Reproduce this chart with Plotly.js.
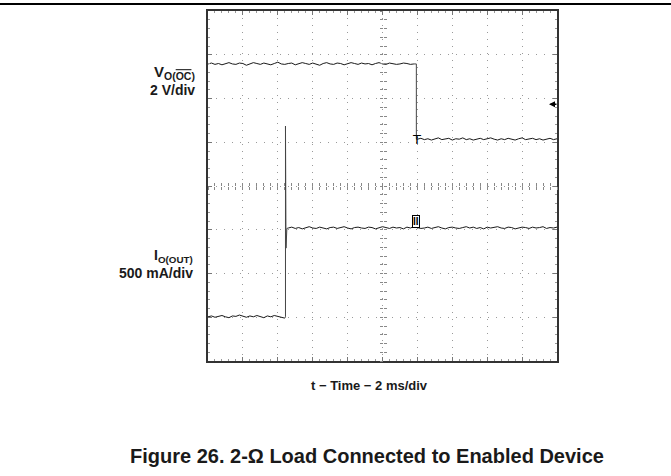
<!DOCTYPE html>
<html>
<head>
<meta charset="utf-8">
<script src="https://cdn.plot.ly/plotly-3.0.1.min.js"></script>
<style>
  body { margin: 0; background: #fff; }
  #plotArea { width: 671px; height: 476px; }
</style>
</head>
<body>
<div id="plotArea"></div>
<script>
// scope screen: 10 x 8 divisions, x in ms (2 ms/div), y in divisions
var sampleStep = 0.2;

// V_O(OC) trace (divisions)
var vHighStart = 0;
var vHigh = [2.79,2.81,2.78,2.80,2.77,2.80,2.82,2.79,2.78,2.81,
  2.80,2.76,2.79,2.82,2.80,2.78,2.81,2.79,2.77,2.80,
  2.83,2.79,2.78,2.80,2.81,2.77,2.79,2.82,2.80,2.78,
  2.81,2.79,2.76,2.80,2.82,2.79,2.78,2.81,2.80,2.77,
  2.79,2.82,2.80,2.78,2.81,2.79,2.80,2.77,2.80,2.82,
  2.79,2.78,2.81,2.80,2.78,2.79,2.81,2.80,2.78,2.79];
var vEdgeT = [11.8, 11.94, 11.94, 12.0];
var vEdgeV = [2.79, 2.79, 1.07, 1.07];
var vLowStart = 12.0;
var vLow = [1.07,1.09,1.06,1.08,1.05,1.08,1.10,1.06,1.07,1.09,
  1.05,1.08,1.07,1.10,1.06,1.08,1.05,1.07,1.09,1.06,
  1.08,1.10,1.07,1.05,1.08,1.06,1.09,1.07,1.05,1.08,
  1.10,1.06,1.07,1.09,1.06,1.08,1.05,1.07,1.09,1.06,1.08];

// I_O(OUT) trace (divisions)
var iLowStart = 0;
var iLow = [-2.99,-2.97,-3.00,-2.98,-2.96,-2.99,-3.01,-2.97,-2.98,-2.95,
  -2.98,-3.00,-2.97,-2.99,-2.96,-2.98,-3.01,-2.97,-2.99,-2.96,
  -2.98,-3.00,-3.02];
var iEdgeT = [4.4, 4.44, 4.44, 4.47, 4.52, 4.6];
var iEdgeI = [-3.02, -2.99, 1.37, -1.42, -0.97, -0.96];
var iHighStart = 4.6;
var iHigh = [-0.96,-0.94,-0.97,-0.95,-0.98,-0.95,-0.93,-0.96,-0.97,-0.94,
  -0.96,-0.98,-0.95,-0.94,-0.97,-0.95,-0.93,-0.96,-0.98,-0.95,
  -0.94,-0.96,-0.97,-0.94,-0.95,-0.98,-0.96,-0.93,-0.95,-0.97,
  -0.94,-0.96,-0.95,-0.98,-0.94,-0.96,-0.93,-0.95,-0.97,-0.96,
  -0.94,-0.97,-0.95,-0.93,-0.96,-0.98,-0.95,-0.94,-0.96,-0.97,
  -0.95,-0.93,-0.96,-0.94,-0.97,-0.95,-0.98,-0.94,-0.96,-0.95,
  -0.93,-0.96,-0.97,-0.94,-0.95,-0.98,-0.96,-0.94,-0.95,-0.97,
  -0.94,-0.96,-0.95,-0.93,-0.97,-0.95,-0.96,-0.94];

// markers on the screen
var cursorT = 11.94;
var cursorLevel = 1.27;
var triggerLevel = -0.8;
var refLevel = 1.87;

var font = "Liberation Sans, Arial, sans-serif";
var ink = "#1a1a1a";

// pixel helpers for the paper-placed text
var L = 208, R = 114, T = 11, B = 115, W = 671, H = 476;
function px(x) { return (x - L) / (W - L - R); }
function py(y) { return (H - B - y) / (H - T - B); }

function seg(y, x0) {
  return {y: y, x0: x0, dx: sampleStep, type: "scatter", mode: "lines",
    line: {color: ink, width: 1}, hoverinfo: "skip", showlegend: false};
}
function edge(x, y) {
  return {x: x, y: y, type: "scatter", mode: "lines",
    line: {color: "#444", width: 1}, hoverinfo: "skip", showlegend: false};
}

var data = [
  seg(vHigh, vHighStart), edge(vEdgeT, vEdgeV), seg(vLow, vLowStart),
  seg(iLow, iLowStart), edge(iEdgeT, iEdgeI), seg(iHigh, iHighStart),
  {x: [], y: [], xaxis: "x2", yaxis: "y", showlegend: false},
  {x: [], y: [], xaxis: "x3", yaxis: "y", showlegend: false},
  {x: [], y: [], xaxis: "x", yaxis: "y2", showlegend: false},
  {x: [], y: [], xaxis: "x", yaxis: "y3", showlegend: false}
];

var gridCol = "#9a9a9a";
var centerX = {overlaying: "x", anchor: "free", position: 0.5, range: [0, 20],
  showgrid: false, zeroline: false, showline: false, showticklabels: false,
  dtick: 0.4, tick0: 0, ticklen: 3, tickcolor: "#888", tickwidth: 1};
var centerY = {overlaying: "y", anchor: "free", position: 0.5, range: [-4, 4],
  showgrid: false, zeroline: false, showline: false, showticklabels: false,
  dtick: 0.2, tick0: 0, ticklen: 3, tickcolor: "#888", tickwidth: 1};

var layout = {
  width: W, height: H,
  margin: {l: L, r: R, t: T, b: B, pad: 0},
  paper_bgcolor: "#fff", plot_bgcolor: "#fff",
  font: {family: font, color: ink},
  showlegend: false,
  xaxis: {
    range: [0, 20], dtick: 2, tick0: 0,
    showgrid: true, gridcolor: gridCol, griddash: "1px,6px", gridwidth: 1,
    zeroline: false, showline: true, mirror: "ticks", linecolor: "#333", linewidth: 2,
    ticks: "inside", ticklen: 4, tickcolor: "#777", showticklabels: false,
    minor: {dtick: 0.4, ticks: "inside", ticklen: 2, tickcolor: "#999", showgrid: false}
  },
  yaxis: {
    range: [-4, 4], dtick: 1, tick0: 0,
    showgrid: true, gridcolor: gridCol, griddash: "1px,7px", gridwidth: 1,
    zeroline: false, showline: true, mirror: "ticks", linecolor: "#333", linewidth: 2,
    ticks: "inside", ticklen: 4, tickcolor: "#777", showticklabels: false,
    minor: {dtick: 0.2, ticks: "inside", ticklen: 2, tickcolor: "#999", showgrid: false}
  },
  xaxis2: Object.assign({}, centerX, {ticks: "inside"}),
  xaxis3: Object.assign({}, centerX, {ticks: "outside"}),
  yaxis2: Object.assign({}, centerY, {ticks: "inside"}),
  yaxis3: Object.assign({}, centerY, {ticks: "outside"}),
  shapes: [
    {type: "line", xref: "paper", yref: "paper", x0: px(0), x1: px(W), y0: py(4), y1: py(4),
      line: {color: "#000", width: 2}}
  ],
  annotations: [
    {xref: "paper", yref: "paper", x: px(197), y: py(72), xanchor: "right", yanchor: "middle",
      showarrow: false, align: "right", font: {size: 15, family: font},
      text: "<b>V<sub>O(<span style='text-decoration:overline'>OC</span>)</sub></b>"},
    {xref: "paper", yref: "paper", x: px(197), y: py(90), xanchor: "right", yanchor: "middle",
      showarrow: false, font: {size: 14, family: font}, text: "<b>2 V/div</b>"},
    {xref: "paper", yref: "paper", x: px(195), y: py(256), xanchor: "right", yanchor: "middle",
      showarrow: false, font: {size: 14, family: font}, text: "<b>I<sub>O(OUT)</sub></b>"},
    {xref: "paper", yref: "paper", x: px(195), y: py(273), xanchor: "right", yanchor: "middle",
      showarrow: false, font: {size: 14, family: font}, text: "<b>500 mA/div</b>"},
    {xref: "paper", yref: "paper", x: px(369), y: py(385), xanchor: "center", yanchor: "middle",
      showarrow: false, font: {size: 13, family: font}, text: "<b>t − Time − 2 ms/div</b>"},
    {xref: "paper", yref: "paper", x: px(367), y: py(456), xanchor: "center", yanchor: "middle",
      showarrow: false, font: {size: 20, family: font},
      text: "<b>Figure 26. 2-Ω Load Connected to Enabled Device</b>"},
    {xref: "x", yref: "y", x: cursorT, y: cursorLevel, xanchor: "center", yanchor: "top",
      showarrow: false, font: {size: 13, family: "DejaVu Sans", color: "#000"}, text: "T"},
    {xref: "x", yref: "y", x: cursorT, y: triggerLevel, xanchor: "center", yanchor: "middle",
      showarrow: false, font: {size: 10, family: font, color: "#000"}, text: "<b>II</b>",
      bordercolor: "#000", borderwidth: 1, borderpad: 0, bgcolor: "#fff"},
    {xref: "paper", yref: "y", x: px(549), y: refLevel, ax: 9, ay: 0, text: "",
      showarrow: true, arrowhead: 2, arrowsize: 0.8, arrowwidth: 1.5, arrowcolor: "#000"}
  ]
};

Plotly.newPlot("plotArea", data, layout, {staticPlot: true});
</script>
</body>
</html>
